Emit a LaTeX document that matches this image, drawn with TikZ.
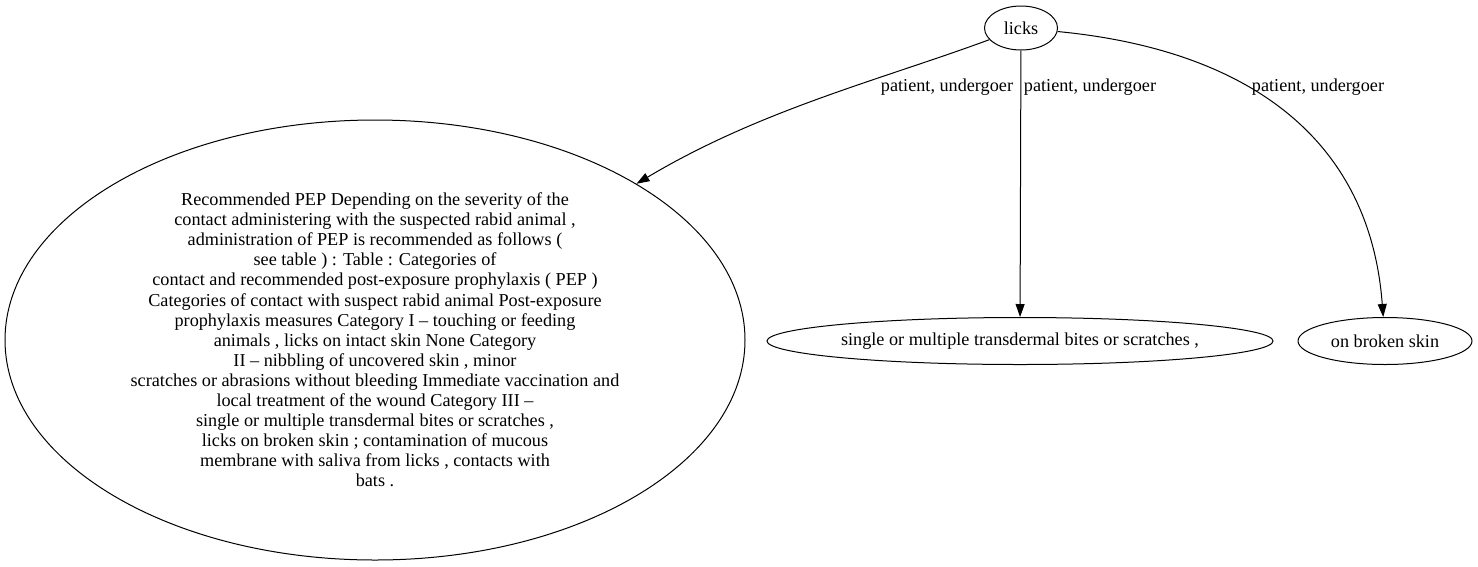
\documentclass[tikz,border=0pt]{standalone}
\usepackage{fontspec}
\setmainfont{Liberation Serif}
\usepackage{tikz}
\usetikzlibrary{shapes.geometric,arrows.meta,positioning,calc}

\begin{document}
\begin{tikzpicture}[
    x=1pt,y=-1pt,
    nd/.style   = {ellipse,draw=black,line width=1pt,inner sep=0pt,align=center,
                   font=\fontsize{18.2}{20.1}\selectfont},
    fl/.style   = {-{Triangle[length=13pt,width=9pt]},black,line width=1pt},
    tag/.style  = {font=\fontsize{18.2}{20.1}\selectfont,inner sep=0pt},
  ]
  \useasboundingbox (0,0) rectangle (1478,566);

  \node[nd,minimum width=73,minimum height=44]   (licks) at (1021,28)  {licks};
  \node[nd,minimum width=740,minimum height=440] (pep)   at (375,340)
       {Recommended PEP Depending on the severity of the\\
        contact administering with the suspected rabid animal ,\\
        administration of PEP is recommended as follows (\\
        see table ) : Table : Categories of\\
        contact and recommended post-exposure prophylaxis ( PEP )\\
        Categories of contact with suspect rabid animal Post-exposure\\
        prophylaxis measures Category I – touching or feeding\\
        animals , licks on intact skin None Category\\
        II – nibbling of uncovered skin , minor\\
        scratches or abrasions without bleeding Immediate vaccination and\\
        local treatment of the wound Category III –\\
        single or multiple transdermal bites or scratches ,\\
        licks on broken skin ; contamination of mucous\\
        membrane with saliva from licks , contacts with\\
        bats .};
  \node[nd,minimum width=506,minimum height=47]  (bites) at (1020,341) {single or multiple transdermal bites or scratches ,};
  \node[nd,minimum width=174,minimum height=47]  (skin)  at (1385,341) {on broken skin};

  \draw[fl] (licks) .. controls (880,80) and (760,110) .. (pep);
  \draw[fl] (licks) -- (bites);
  \draw[fl] (licks) .. controls (1250,50) and (1370,140) .. (skin);

  \node[tag] (l1) at (947,87)  {patient, undergoer};
  \node[tag] (l2) at (1090,87) {patient, undergoer};
  \node[tag] (l3) at (1318,87) {patient, undergoer};

\end{tikzpicture}
\end{document}
